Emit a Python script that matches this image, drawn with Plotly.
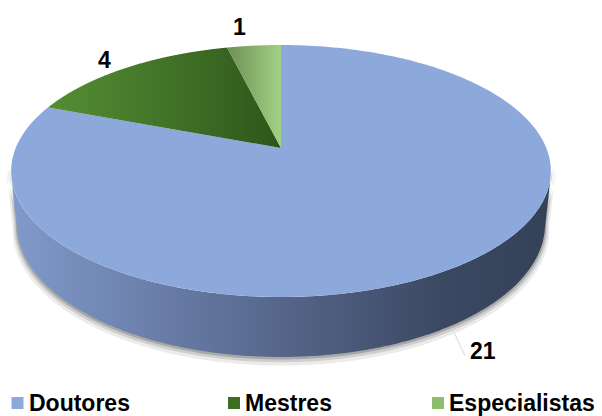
import numpy as np
import plotly.graph_objects as go

# data
labels = ['Doutores', 'Mestres', 'Especialistas']
values = [21, 4, 1]

# styling per slice
top_scales = [
    [[0, '#8DA9DB'], [1, '#8DA9DB']],
    [[0, '#558E33'], [0.6, '#3E6E25'], [1, '#2E551B']],
    [[0, '#6E8F55'], [1, '#A3D184']],
]
side_scale = [[0, '#819ACB'], [0.45, '#5A6B91'], [0.8, '#3B4862'], [1, '#344157']]
legend_colors = ['#8DA9DB', '#3E6E25', '#8DBE6E']
FONT = 'Liberation Sans'

# 3d pie camera (perspective), tuned to the Excel look, pixel space output
SIN_A = 0.459
COS_A = np.sqrt(1 - SIN_A ** 2)
DIST, FOCAL = 4.866, 1291
X0, Y0 = 281, 148          # where the pie centre lands on screen
THICK = 0.227              # pie thickness relative to radius


def proj(phi, r=1.0, h=0.0):
    t = np.radians(phi)
    x3, z3, y3 = r * np.sin(t), r * np.cos(t), -h
    up = y3 * COS_A + z3 * SIN_A
    w = DIST + z3 * COS_A - y3 * SIN_A
    return X0 + FOCAL * x3 / w, Y0 - FOCAL * up / w


def arc(t1, t2, r=1.0, h=0.0, n=240):
    x, y = proj(np.linspace(t1, t2, n), r, h)
    return list(x), list(y)


total = sum(values)
edges = np.concatenate([[0], np.cumsum(values)]) / total * 360

# visible part of the rim: outward normal facing the camera
cam_z = -DIST * COS_A
rim_a = np.degrees(np.arccos(1 / cam_z))
rim_b = 360 - rim_a

fig = go.Figure()

# soft shadow under the rim
for grow, dh, alpha in [(1.018, 0.02, 0.08), (1.011, 0.012, 0.12), (1.005, 0.006, 0.18)]:
    xa, ya = arc(rim_a - 4, rim_b + 4, grow, THICK + dh)
    xb, yb = arc(rim_b + 4, rim_a - 4, grow, 0)
    fig.add_trace(go.Scatter(
        x=xa + xb, y=ya + yb, fill='toself', mode='none',
        fillcolor=f'rgba(0,0,0,{alpha})', hoverinfo='skip', showlegend=False))

# rim (front side) of the pie
xa, ya = arc(rim_a, rim_b)
xb, yb = arc(rim_b, rim_a, h=THICK)
fig.add_trace(go.Scatter(
    x=xa + xb, y=ya + yb, fill='toself', mode='none',
    fillgradient=dict(type='horizontal', colorscale=side_scale,
                      start=min(xa), stop=max(xa)),
    hoverinfo='skip', showlegend=False))

# top faces
for i, lab in enumerate(labels):
    xa, ya = arc(edges[i], edges[i + 1])
    xs = [X0] + xa + [X0]
    ys = [Y0] + ya + [Y0]
    fig.add_trace(go.Scatter(
        x=xs, y=ys, fill='toself', mode='none',
        fillgradient=dict(type='horizontal', colorscale=top_scales[i],
                          start=min(xs), stop=max(xs)),
        name=lab, text=f'{lab}: {values[i]}', hoverinfo='text',
        showlegend=False))

# data labels
label_pos = [(483, 351), (104, 60), (239, 27)]
for v, (lx, ly) in zip(values, label_pos):
    fig.add_annotation(x=lx, y=ly, text=f'<b>{v}</b>', showarrow=False,
                       font=dict(family=FONT, size=23, color='black'))
fig.add_shape(type='line', x0=452, y0=328, x1=465, y1=356,
              line=dict(color='#D9D9D9', width=1))

# legend
leg_x = [17.5, 234, 438]
fig.add_trace(go.Scatter(
    x=leg_x, y=[403] * 3, mode='markers', hoverinfo='skip', showlegend=False,
    marker=dict(symbol='square', size=12, color=legend_colors)))
for lab, lx in zip(labels, leg_x):
    fig.add_annotation(x=lx + 9, y=403, text=f'<b>{lab}</b>', showarrow=False,
                       xanchor='left', yanchor='middle',
                       font=dict(family=FONT, size=23, color='black'))

fig.update_layout(
    width=602, height=416,
    margin=dict(l=0, r=0, t=0, b=0),
    paper_bgcolor='white', plot_bgcolor='white',
    xaxis=dict(range=[0, 602], visible=False, fixedrange=True),
    yaxis=dict(range=[416, 0], visible=False, fixedrange=True),
    showlegend=False,
)

# page body has a default 8px margin; drop it so the figure fills the window
fig.write_html("out.html", config={'displayModeBar': False},
               post_script="document.body.style.margin = '0';")
